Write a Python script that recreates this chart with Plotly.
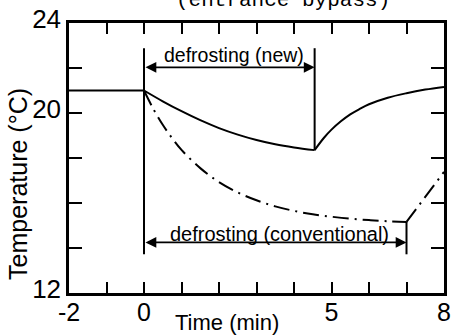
import plotly.graph_objects as go

# --- data ---
pre_t = [-2.0, 0.0]
pre_T = [21.0, 21.0]

new_fall_t = [0.0, 0.5, 1.0, 1.5, 2.0, 2.5, 3.0, 3.5, 4.0, 4.55]
new_fall_T = [21.0, 20.52, 20.08, 19.68, 19.33, 19.04, 18.8, 18.61, 18.47, 18.35]
new_rise_t = [4.55, 4.8, 5.0, 5.25, 5.5, 5.75, 6.0, 6.5, 7.0, 7.5, 8.0]
new_rise_T = [18.35, 18.9, 19.26, 19.63, 19.94, 20.18, 20.39, 20.68, 20.88, 21.04, 21.16]

conv_fall_t = [0.0, 0.25, 0.5, 0.75, 1.0, 1.5, 2.0, 2.5, 3.0, 3.5, 4.0, 4.5,
               5.0, 5.5, 6.0, 6.5, 7.0]
conv_fall_T = [21.0, 20.18, 19.48, 18.88, 18.36, 17.55, 16.93, 16.47, 16.12, 15.85, 15.65, 15.5,
               15.39, 15.3, 15.24, 15.19, 15.16]
conv_rise_t = [7.0, 7.5, 8.0]
conv_rise_T = [15.16, 16.27, 17.38]

defrost_start = 0.0
new_end = 4.55
conv_end = 7.0
new_arrow_T = 22.03
conv_arrow_T = 14.25
marker_top_T = 22.88
marker_bottom_T = 13.72
new_end_T = 18.35
conv_end_T = 15.16

x_ticks = [-2, -1, 0, 1, 2, 3, 4, 5, 6, 7, 8]
x_ticktext = ["-2", "", "0", "", "", "", "", "5", "", "", "8"]
y_ticks = [12, 14, 16, 18, 20, 22, 24]
y_ticktext = ["12", "", "", "", "20", "", "24"]

label_new = "defrosting (new)"
label_conv = "defrosting (conventional)"
title_text = "(entrance bypass)"
x_title = "Time (min)"
y_title = "Temperature (°C)"

BLACK = "#000000"
NARROW = "Liberation Sans Narrow, Liberation Sans, Arial Narrow, sans-serif"
SANS = "Liberation Sans, Arial, sans-serif"
DASHDOT = "16px,6px,2px,6px"

fig = go.Figure()


def add_line(x, y, dash="solid", shape="linear"):
    fig.add_trace(go.Scatter(x=x, y=y, mode="lines", line_shape=shape,
                             line=dict(color=BLACK, width=2, dash=dash),
                             showlegend=False, hoverinfo="skip"))


add_line(pre_t, pre_T)
add_line(new_fall_t, new_fall_T, shape="spline")
add_line(new_rise_t, new_rise_T, shape="spline")
add_line(conv_fall_t, conv_fall_T, dash=DASHDOT, shape="spline")
add_line(conv_rise_t, conv_rise_T, dash=DASHDOT)

# vertical markers
add_line([defrost_start, defrost_start], [marker_top_T, marker_bottom_T])
add_line([new_end, new_end], [marker_top_T, new_end_T])
add_line([conv_end, conv_end], [conv_end_T, marker_bottom_T])

annotations = [
    dict(x=new_end, y=new_arrow_T, ax=defrost_start, ay=new_arrow_T,
         xref="x", yref="y", axref="x", ayref="y", text="", showarrow=True,
         arrowhead=2, arrowside="end+start", arrowsize=1.2, arrowwidth=1.8,
         arrowcolor=BLACK),
    dict(x=conv_end, y=conv_arrow_T, ax=defrost_start, ay=conv_arrow_T,
         xref="x", yref="y", axref="x", ayref="y", text="", showarrow=True,
         arrowhead=2, arrowside="end+start", arrowsize=1.2, arrowwidth=1.8,
         arrowcolor=BLACK),
    dict(x=2.4, y=22.56, xref="x", yref="y", text=label_new, showarrow=False,
         font=dict(family=NARROW, size=19.5, color=BLACK)),
    dict(x=3.6, y=14.64, xref="x", yref="y", text=label_conv, showarrow=False,
         font=dict(family=NARROW, size=20, color=BLACK)),
    dict(x=0.57, y=1.082, xref="paper", yref="paper", text=title_text, showarrow=False,
         yanchor="middle", font=dict(family="Liberation Mono, Courier New, monospace",
                                     size=21, color=BLACK)),
    dict(x=0.42, y=-0.111, xref="paper", yref="paper", text=x_title, showarrow=False,
         xanchor="center", yanchor="middle",
         font=dict(family=SANS, size=22, color=BLACK)),
    dict(x=-0.136, y=0.404, xref="paper", yref="paper", text=y_title, showarrow=False,
         textangle=-90, xanchor="center", yanchor="middle",
         font=dict(family=SANS, size=25, color=BLACK)),
]

fig.update_layout(
    width=451, height=335,
    margin=dict(l=69, r=7, t=23, b=42, pad=0),
    paper_bgcolor="white", plot_bgcolor="white",
    showlegend=False,
    annotations=annotations,
)

fig.update_xaxes(range=[-2, 8], tickmode="array", tickvals=x_ticks, ticktext=x_ticktext,
                 ticks="inside", ticklen=11, tickwidth=2, tickcolor=BLACK,
                 showline=True, linewidth=2.5, linecolor=BLACK, mirror="allticks",
                 showgrid=False, zeroline=False, automargin=False,
                 ticklabelstandoff=-5,
                 tickfont=dict(family=NARROW, size=25, color=BLACK))
fig.update_yaxes(range=[12, 24], tickmode="array", tickvals=y_ticks, ticktext=y_ticktext,
                 ticks="inside", ticklen=13, tickwidth=2, tickcolor=BLACK,
                 showline=True, linewidth=2.5, linecolor=BLACK, mirror="allticks",
                 showgrid=False, zeroline=False, automargin=False,
                 ticklabelshift=-4,
                 tickfont=dict(family=NARROW, size=26, color=BLACK))

fig.write_html("out.html")
